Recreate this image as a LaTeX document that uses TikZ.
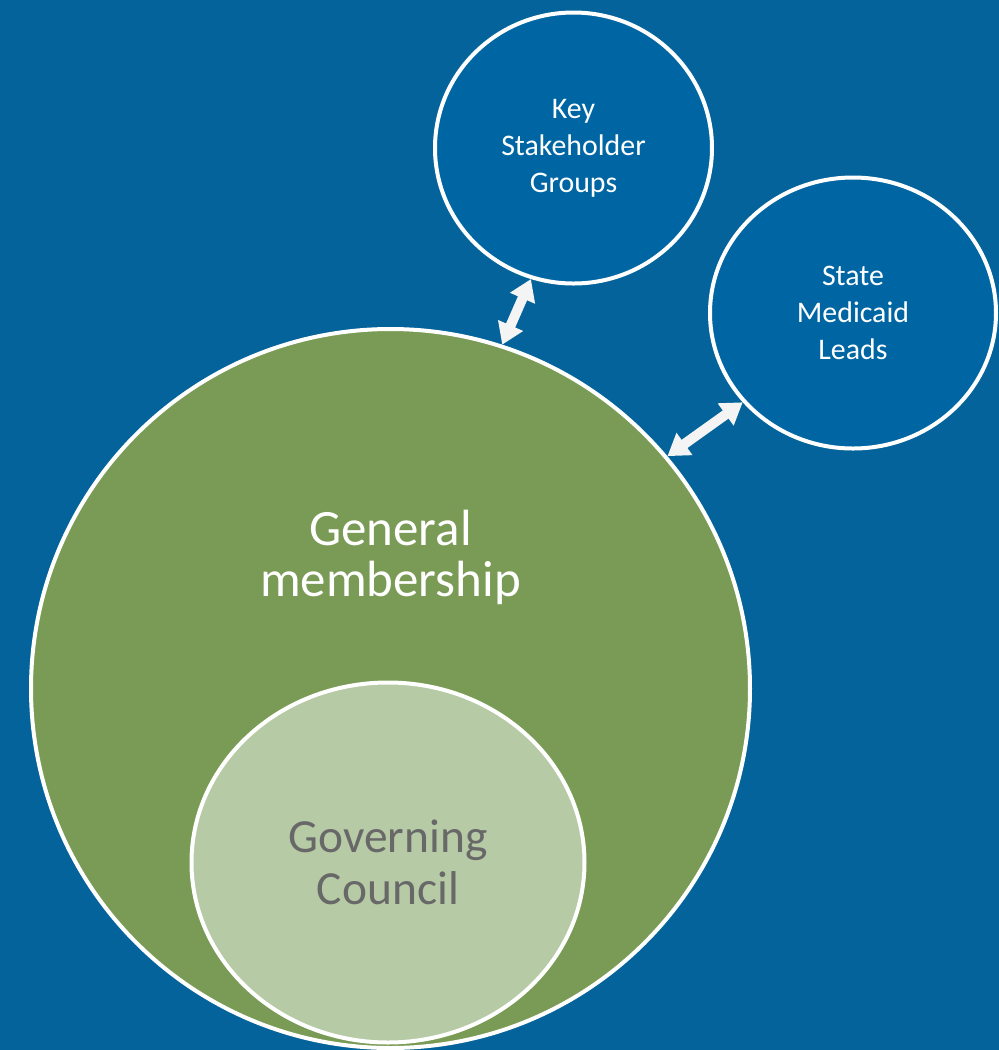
\documentclass[tikz,border=0pt]{standalone}
\usepackage{fontspec}
\setmainfont{Carlito}
\usetikzlibrary{arrows.meta, positioning, calc, shapes.geometric}

\definecolor{bgblue}{HTML}{03639A}
\definecolor{grpblue}{HTML}{0066A3}
\definecolor{memgreen}{HTML}{7A9B55}
\definecolor{govgreen}{HTML}{B5CAA5}
\definecolor{govgray}{HTML}{686868}
\definecolor{arrowwhite}{HTML}{F4F4F4}

\begin{document}
\begin{tikzpicture}[
    ring/.style={ellipse, draw=white, line width=0.08cm, fill=#1, inner sep=0pt, align=center},
    smalltext/.style={text=white, font=\fontsize{17}{21}\selectfont},
    bigtext/.style={align=center, font=\fontsize{29}{29}\selectfont},
    link/.style={arrowwhite, line width=0.2cm,
        {Triangle[width=0.52cm, length=0.42cm]}-{Triangle[width=0.52cm, length=0.42cm]}}
]
    % background
    \fill[bgblue] (0,0) rectangle (19.98,-21);
    \useasboundingbox (0,0) rectangle (19.98,-21);
    \clip (0,0) rectangle (19.98,-21);

    % general membership and governing council
    \node[ring=memgreen, minimum width=14.38cm, minimum height=14.38cm] (gen) at (7.81,-13.77) {};
    \node[bigtext, text=white] (genlbl) at ($(gen.center)+(0,2.63)$) {General\\membership};

    \node[ring=govgreen, minimum width=7.86cm, minimum height=7.2cm, text=govgray,
          font=\fontsize{27}{29.6}\selectfont] (gov) at (7.76,-17.25) {Governing\\Council};

    % outer groups
    \node[ring=grpblue, smalltext, minimum width=5.54cm, minimum height=5.42cm] (key) at (11.47,-2.96) {Key\\Stakeholder\\Groups};
    \node[ring=grpblue, smalltext, minimum width=5.72cm, minimum height=5.42cm] (state) at (17.06,-6.26) {State\\Medicaid\\Leads};

    % two-way links
    \draw[link] (gen.72) -- (key.252);
    \draw[link] (gen.40.5) -- (state.219);
\end{tikzpicture}
\end{document}
